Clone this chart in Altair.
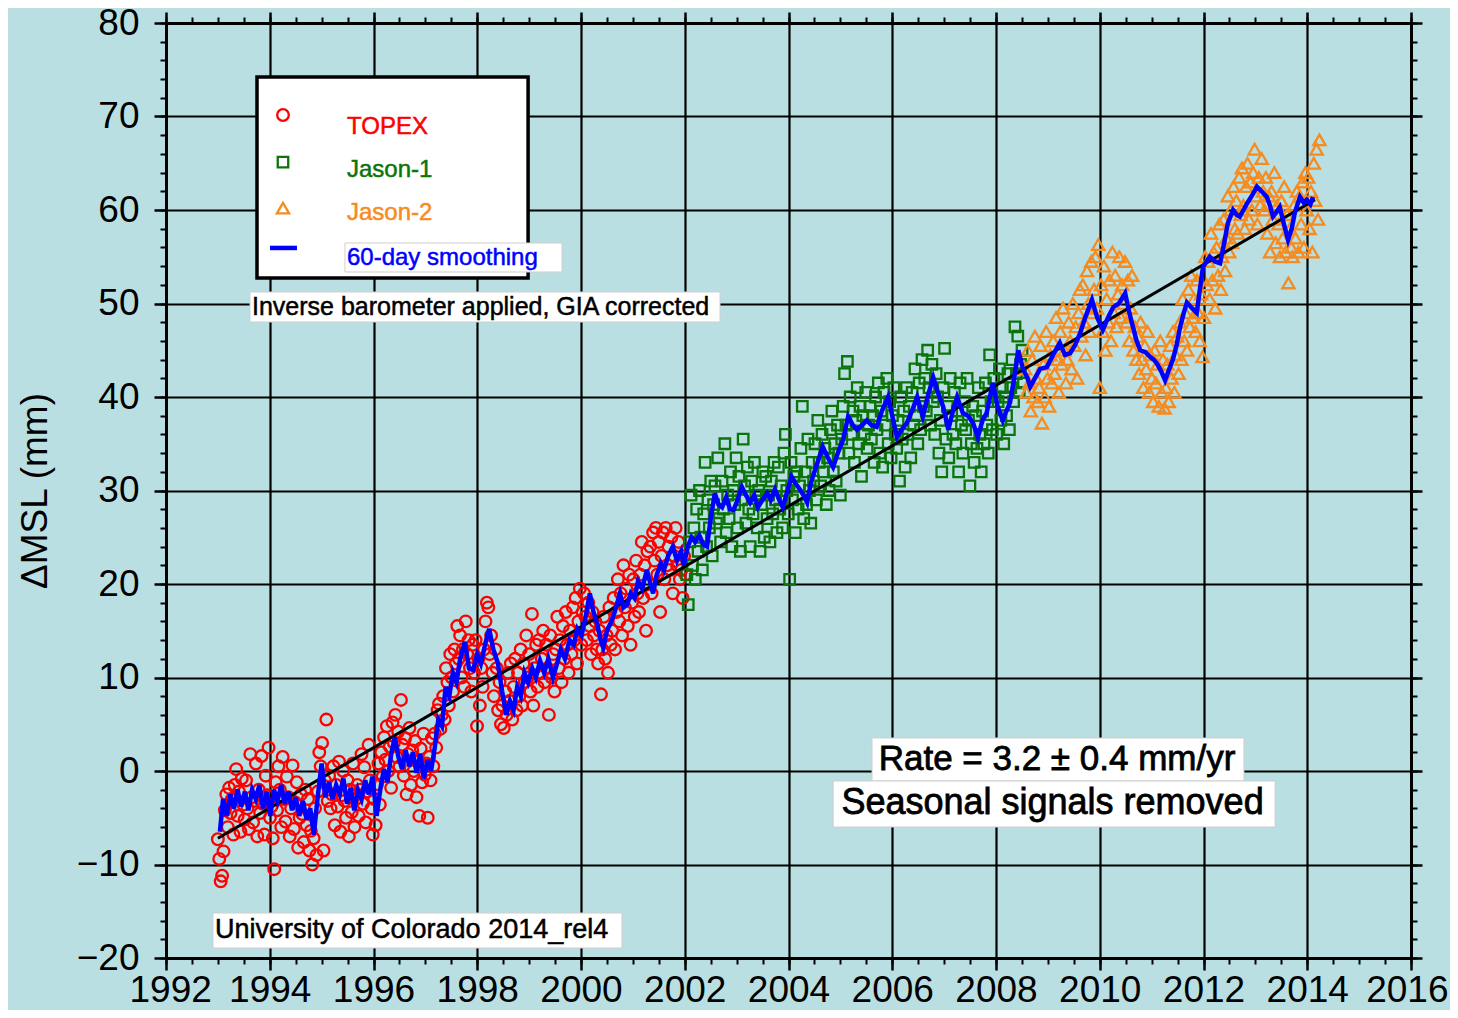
import altair as alt
import numpy as np
import pandas as pd

# ---------------- data ----------------
CYCLE = 0.02715          # ~10-day altimeter cycle, in years
TOPEX_START = 1993.0
JASON1_START = 2002.04
JASON2_START = 2008.56

TOPEX = [
    -7.3, -9.4, -11.8, -11.2, -8.6, -4.2, -2.5, -6.0, -1.8, -4.5,
    -3.0, -6.8, -1.5, 0.2, -4.8, -2.2, -6.5, -0.8, -3.6, -5.2,
    -1.0, -4.0, -6.2, 1.8, -2.8, -5.5, -3.2, 0.8, -7.0, -2.0,
    -4.5, 1.6, -3.5, -6.8, -0.5, -2.6, 2.5, -5.0, -3.8, -7.2,
    -10.5, -1.2, -4.2, 0.5, -2.0, -6.0, 1.5, -3.0, -5.4, -0.6,
    -2.8, -7.0, -4.0, 0.6, -6.2, -3.4, -1.2, -8.2, -5.0, -2.5,
    -4.6, -7.6, -2.0, -5.8, -3.0, -8.5, -6.4, -10.0, -7.2, -4.0,
    -9.0, -2.2, 2.0, 0.5, 3.0, -8.5, -1.0, 5.5, -3.2, -0.5,
    -4.0, -2.5, 0.5, -5.8, -1.5, -3.8, 1.0, -6.5, -2.6, 0.0,
    -3.2, -5.0, -1.0, -7.0, -2.0, -4.4, 0.8, -6.0, -3.0, -1.5,
    -4.8, -2.0, 1.8, -3.5, 0.4, -5.5, -2.2, 2.8, -1.0, -4.0,
    -6.8, -3.0, -5.8, -1.4, 0.8, -3.6, 2.0, -0.6, 3.6, 1.2,
    4.8, 0.0, 2.6, -1.8, 5.2, 3.0, 6.0, 1.5, 4.2, 0.5,
    7.6, 2.8, -0.5, 3.5, -2.5, 1.8, 4.6, -1.5, 2.2, 0.0,
    3.2, -2.8, 1.0, -4.8, 2.4, -1.2, 4.0, -0.4, 0.8, -5.0,
    1.5, -1.0, 3.5, 0.5, 4.0, 2.5, 6.5, 7.2, 4.5, 6.0,
    8.0, 5.5, 11.0, 9.5, 7.0, 12.5, 10.0, 8.5, 13.0, 11.5,
    15.5, 12.0, 14.5, 10.0, 13.0, 9.0, 16.0, 12.5, 14.0, 11.0,
    8.5, 13.5, 10.5, 14.0, 4.8, 12.0, 7.0, 11.0, 9.0, 13.0,
    16.0, 18.0, 17.5, 12.5, 14.5, 10.5, 8.0, 13.0, 11.0, 6.5,
    9.5, 5.0, 7.0, 4.6, 8.5, 6.0, 10.5, 7.5, 11.5, 5.5,
    9.0, 12.0, 6.5, 10.5, 8.0, 13.0, 7.0, 11.5, 9.5, 14.5,
    10.0, 12.5, 8.5, 16.8, 7.0, 11.0, 13.5, 9.0, 14.0, 10.5,
    12.0, 15.0, 9.5, 13.5, 11.0, 6.0, 14.5, 10.0, 12.5, 8.5,
    13.0, 16.5, 11.0, 14.0, 9.5, 15.5, 12.0, 17.0, 13.5, 10.5,
    15.0, 12.5, 17.5, 14.0, 18.5, 11.5, 16.0, 19.5, 13.5, 17.0,
    19.0, 16.5, 14.0, 18.0, 15.5, 12.5, 17.0, 14.5, 16.0, 13.0,
    11.5, 15.0, 8.2, 13.0, 16.5, 12.0, 14.5, 10.5, 17.5, 13.5,
    15.0, 18.5, 13.0, 17.0, 20.5, 16.0, 19.0, 14.5, 22.0, 17.5,
    19.5, 15.5, 21.0, 13.5, 18.0, 20.5, 16.5, 22.5, 19.0, 17.0,
    21.0, 24.5, 18.5, 22.0, 15.0, 23.5, 20.0, 24.0, 19.0, 25.5,
    22.5, 26.0, 21.0, 24.5, 17.0, 23.0, 25.5, 20.5, 26.0, 22.0,
    24.0, 21.5, 25.0, 19.0, 23.0, 26.0, 22.0, 24.5, 20.5, 21.5,
    18.5, 23.0, 21.0,
]

JASON1 = [
    21.0, 17.8, 24.5, 29.5, 22.0, 26.0, 20.5, 28.0, 23.5, 30.0,
    25.0, 21.5, 27.5, 33.0, 24.0, 29.0, 26.0, 31.0, 23.0, 28.5,
    30.5, 26.5, 33.5, 27.0, 24.5, 31.0, 28.0, 35.0, 25.5, 29.5,
    27.0, 32.0, 24.0, 30.0, 28.5, 33.5, 26.0, 31.5, 23.5, 29.0,
    35.5, 30.5, 26.5, 32.5, 28.0, 24.0, 31.0, 27.5, 33.0, 29.5,
    26.0, 30.0, 23.5, 28.5, 32.0, 25.0, 31.5, 27.0, 29.5, 24.5,
    31.0, 27.5, 33.0, 29.0, 25.5, 32.5, 28.0, 30.5, 26.0, 34.0,
    36.0, 30.0, 27.5, 20.5, 33.0, 29.0, 31.5, 25.5, 32.0, 28.0,
    30.5, 34.5, 39.0, 27.0, 32.0, 28.5, 35.5, 30.0, 26.5, 33.0,
    31.0, 35.0, 29.0, 37.5, 33.0, 30.5, 36.0, 32.0, 34.5, 28.5,
    33.5, 30.0, 36.5, 38.5, 32.0, 35.0, 31.0, 37.0, 34.0, 29.5,
    35.5, 39.0, 42.5, 37.0, 43.8, 34.0, 40.0, 36.0, 38.5, 33.0,
    37.5, 41.0, 35.0, 39.0, 31.5, 38.0, 36.0, 40.5, 34.5, 37.0,
    39.0, 35.5, 38.0, 33.0, 40.0, 36.5, 41.5, 34.0, 38.5, 32.5,
    40.5, 37.0, 42.0, 35.0, 39.5, 33.5, 38.0, 41.0, 36.0, 34.5,
    37.5, 31.0, 40.0, 35.5, 38.5, 32.5, 41.0, 36.0, 39.0, 33.5,
    40.5, 37.0, 43.0, 38.0, 35.0, 41.5, 36.5, 44.0, 39.0, 42.0,
    38.5, 45.0, 41.0, 37.0, 43.5, 39.5, 36.0, 42.5, 40.0, 34.0,
    37.5, 32.0, 41.0, 45.2, 35.5, 39.0, 33.5, 42.0, 38.0, 36.0,
    40.5, 35.0, 38.5, 32.0, 41.5, 37.0, 34.0, 39.5, 36.5, 42.0,
    37.5, 30.5, 35.0, 39.0, 33.0, 38.0, 34.5, 41.0, 36.0, 32.0,
    38.5, 35.0, 41.5, 37.0, 34.0, 44.5, 39.5, 36.5, 42.0, 40.0,
    36.0, 39.5, 43.0, 37.5, 41.0, 35.0, 40.0, 38.0, 42.5, 36.5,
    41.0, 44.0, 39.5, 47.5, 42.5, 46.5, 40.5, 43.5, 45.0, 41.5,
]

JASON2 = [
    43.0, 40.5, 45.0, 41.5, 38.5, 44.0, 40.0, 46.5, 42.0, 39.5,
    41.0, 45.5, 37.2, 43.5, 40.0, 47.0, 42.0, 39.0, 44.5, 41.5,
    46.0, 42.5, 48.5, 44.0, 40.5, 47.0, 43.5, 49.5, 45.0, 41.5,
    44.0, 48.0, 46.0, 43.0, 50.0, 45.5, 47.5, 42.0, 49.0, 51.5,
    46.5, 52.0, 48.0, 44.5, 53.5, 50.0, 47.0, 54.5, 49.0, 51.5,
    55.0, 49.5, 56.3, 41.0, 52.0, 47.0, 54.0, 45.0, 50.5, 48.0,
    52.5, 46.0, 55.5, 49.0, 53.0, 47.5, 51.0, 55.0, 48.5, 52.0,
    50.0, 54.5, 48.0, 52.5, 46.0, 49.5, 53.0, 45.0, 47.5, 44.0,
    46.5, 42.5, 48.0, 44.0, 41.0, 45.5, 43.0, 47.0, 40.5, 44.5,
    42.0, 39.5, 45.0, 41.5, 43.5, 39.0, 46.0, 40.5, 44.0, 38.8,
    41.0, 43.5, 39.5, 45.5, 42.0, 47.0, 40.5, 44.5, 46.5, 42.5,
    48.0, 44.0, 50.5, 46.0, 49.0, 45.0, 51.5, 47.5, 53.0, 48.5,
    50.5, 47.0, 52.5, 49.0, 46.0, 51.0, 44.3, 48.5, 55.0, 52.0,
    54.5, 50.5, 57.5, 52.5, 55.5, 49.5, 56.0, 53.0, 58.5, 51.5,
    55.0, 59.0, 53.5, 57.0, 61.5, 55.5, 60.0, 56.5, 62.5, 58.0,
    61.0, 57.5, 63.5, 59.5, 64.5, 60.5, 58.0, 62.5, 65.0, 59.0,
    63.0, 60.0, 64.0, 66.5, 61.5, 58.5, 63.5, 60.5, 65.5, 62.0,
    60.0, 63.5, 57.5, 61.5, 55.5, 62.0, 59.0, 64.0, 56.5, 60.5,
    58.5, 55.0, 61.0, 57.0, 62.5, 55.5, 59.5, 52.2, 58.0, 56.0,
    55.0, 60.5, 57.0, 62.0, 55.5, 61.5, 58.5, 63.0, 56.0, 64.0,
    60.0, 63.5, 58.0, 62.0, 55.5, 65.0, 61.0, 66.5, 59.0, 67.5,
]

SMOOTH_YEAR = [
    1993.04, 1993.10, 1993.17, 1993.24, 1993.31, 1993.38, 1993.45, 1993.52, 1993.59, 1993.66,
    1993.73, 1993.80, 1993.87, 1993.94, 1994.01, 1994.08, 1994.15, 1994.22, 1994.29, 1994.36,
    1994.43, 1994.50, 1994.57, 1994.64, 1994.71, 1994.78, 1994.85, 1994.92, 1995.00, 1995.07,
    1995.14, 1995.21, 1995.28, 1995.35, 1995.42, 1995.49, 1995.56, 1995.63, 1995.70, 1995.77,
    1995.84, 1995.91, 1995.98, 1996.06, 1996.13, 1996.20, 1996.27, 1996.34, 1996.41, 1996.48,
    1996.55, 1996.62, 1996.69, 1996.76, 1996.83, 1996.90, 1996.97, 1997.04, 1997.11, 1997.18,
    1997.25, 1997.32, 1997.39, 1997.46, 1997.53, 1997.60, 1997.67, 1997.76, 1997.84, 1997.92,
    1998.00, 1998.07, 1998.15, 1998.23, 1998.31, 1998.40, 1998.48, 1998.56, 1998.63, 1998.70,
    1998.77, 1998.84, 1998.91, 1998.98, 1999.06, 1999.13, 1999.21, 1999.29, 1999.37, 1999.46,
    1999.54, 1999.61, 1999.69, 1999.78, 1999.86, 1999.93, 2000.01, 2000.09, 2000.17, 2000.24,
    2000.31, 2000.38, 2000.43, 2000.50, 2000.57, 2000.65, 2000.75, 2000.82, 2000.89, 2000.96,
    2001.03, 2001.10, 2001.18, 2001.27, 2001.34, 2001.39, 2001.46, 2001.54, 2001.60, 2001.68,
    2001.77, 2001.85, 2001.93, 2001.98, 2002.06, 2002.13, 2002.20, 2002.28, 2002.36, 2002.43,
    2002.50, 2002.58, 2002.65, 2002.72, 2002.80, 2002.87, 2002.94, 2003.02, 2003.10, 2003.18,
    2003.26, 2003.34, 2003.41, 2003.50, 2003.59, 2003.66, 2003.74, 2003.82, 2003.89, 2003.98,
    2004.06, 2004.13, 2004.22, 2004.29, 2004.36, 2004.42, 2004.47, 2004.56, 2004.66, 2004.76,
    2004.86, 2004.95, 2005.05, 2005.15, 2005.24, 2005.32, 2005.42, 2005.51, 2005.60, 2005.70,
    2005.80, 2005.92, 2006.00, 2006.09, 2006.18, 2006.28, 2006.38, 2006.48, 2006.59, 2006.68,
    2006.79, 2006.88, 2006.98, 2007.08, 2007.17, 2007.25, 2007.36, 2007.46, 2007.56, 2007.65,
    2007.74, 2007.82, 2007.94, 2008.03, 2008.13, 2008.20, 2008.27, 2008.35, 2008.43, 2008.52,
    2008.60, 2008.66, 2008.75, 2008.85, 2008.98, 2009.10, 2009.23, 2009.33, 2009.43, 2009.52,
    2009.62, 2009.72, 2009.85, 2009.95, 2010.06, 2010.16, 2010.26, 2010.37, 2010.49, 2010.57,
    2010.64, 2010.71, 2010.78, 2010.88, 2010.97, 2011.04, 2011.10, 2011.18, 2011.26, 2011.34,
    2011.41, 2011.48, 2011.55, 2011.62, 2011.68, 2011.78, 2011.87, 2011.93, 2011.99, 2012.06,
    2012.12, 2012.22, 2012.32, 2012.40, 2012.47, 2012.57, 2012.64, 2012.70, 2012.77, 2012.84,
    2012.93, 2013.03, 2013.12, 2013.22, 2013.28, 2013.34, 2013.41, 2013.47, 2013.55, 2013.63,
    2013.70, 2013.76, 2013.86, 2013.93, 2013.99, 2014.06, 2014.11,
]
SMOOTH_MM = [
    -6.5, -3.0, -4.8, -2.5, -4.0, -2.0, -3.8, -2.2, -4.2, -2.0,
    -3.0, -1.5, -4.0, -2.2, -4.8, -2.0, -3.2, -1.5, -3.5, -2.2,
    -4.2, -2.8, -4.8, -3.2, -5.2, -4.0, -6.8, -3.0, 0.8, -2.8,
    -1.2, -3.0, -1.5, -2.5, -0.8, -3.5, -1.8, -4.2, -2.0, -3.0,
    -1.0, -2.5, -0.6, -4.8, -2.0, 0.2, -1.2, 1.8, 3.6, 1.5,
    0.2, 2.2, 0.5, 2.0, -0.2, 1.8, -0.8, 1.2, 0.0, 2.5,
    5.5, 4.8, 9.0, 8.0, 10.5, 9.5, 12.0, 13.8, 11.0, 10.8,
    12.5, 11.5, 13.5, 15.2, 13.0, 11.5, 8.5, 6.0, 7.5, 6.5,
    9.0, 8.0, 10.5, 9.5, 11.0, 10.0, 11.8, 10.5, 12.0, 10.0,
    11.5, 13.0, 12.0, 14.0, 13.5, 15.2, 14.5, 16.5, 19.0, 17.0,
    15.8, 14.0, 13.2, 15.0, 15.8, 17.0, 19.0, 17.5, 17.8, 19.0,
    18.5, 20.3, 19.5, 21.5, 20.0, 19.0, 21.0, 22.2, 21.5, 23.0,
    24.0, 22.5, 23.5, 22.0, 24.0, 25.0, 24.5, 25.2, 24.2, 24.0,
    27.0, 29.7, 28.5, 28.2, 29.3, 28.0, 27.9, 29.0, 30.4, 29.5,
    28.7, 29.5, 28.2, 29.0, 29.7, 29.0, 30.1, 29.0, 28.2, 30.0,
    31.5, 30.8, 30.1, 29.5, 28.7, 30.5, 31.5, 33.0, 34.7, 33.5,
    32.5, 34.0, 35.4, 37.9, 37.0, 36.5, 37.0, 37.5, 37.0, 36.8,
    38.5, 40.0, 38.0, 35.7, 36.5, 37.2, 38.5, 40.0, 37.9, 40.0,
    42.1, 40.5, 39.0, 36.5, 38.5, 40.0, 38.3, 38.0, 37.2, 35.7,
    37.5, 38.3, 41.5, 39.0, 37.5, 38.5, 39.4, 42.0, 45.0, 43.0,
    42.1, 41.1, 42.0, 43.0, 43.2, 44.5, 45.8, 44.5, 44.7, 45.5,
    46.8, 48.5, 50.4, 48.5, 47.2, 48.5, 49.6, 50.0, 51.1, 49.0,
    47.5, 46.0, 45.0, 44.8, 44.3, 44.0, 43.6, 42.8, 41.8, 43.0,
    44.0, 45.5, 47.5, 49.0, 50.1, 49.5, 49.0, 51.5, 53.9, 54.5,
    55.0, 54.5, 54.3, 56.5, 58.6, 60.0, 59.5, 59.3, 60.0, 60.7,
    61.5, 62.5, 62.0, 61.4, 60.5, 59.3, 59.8, 60.3, 58.5, 56.8,
    58.0, 59.7, 61.4, 60.8, 61.1, 60.6, 61.4,
]

TREND_YEAR = [1993.0, 2014.15]
TREND_MM = [-7.2, 61.1]

X_MAJOR = list(range(1992, 2017, 2))
X_MINOR = [1992 + 0.5 * i for i in range(49)]
Y_MAJOR = list(range(-20, 81, 10))
Y_MINOR = list(range(-20, 81, 2))

# ---------------- styling ----------------
FONT = "Liberation Sans"
BG = "#b9dfe2"
RED = "#ff0000"
GREEN = "#0b740b"
ORANGE = "#f68b1f"
BLUE = "#0000ff"

xs = alt.Scale(domain=[1992, 2016], nice=False, zero=False)
ys = alt.Scale(domain=[-20, 80], nice=False, zero=False)

topex_df = pd.DataFrame({"year": TOPEX_START + CYCLE * np.arange(len(TOPEX)), "mm": TOPEX})
j1_df = pd.DataFrame({"year": JASON1_START + CYCLE * np.arange(len(JASON1)), "mm": JASON1})
j2_df = pd.DataFrame({"year": JASON2_START + CYCLE * np.arange(len(JASON2)), "mm": JASON2})
smooth_df = pd.DataFrame({"year": SMOOTH_YEAR, "mm": SMOOTH_MM})
trend_df = pd.DataFrame({"year": TREND_YEAR, "mm": TREND_MM})


def X():
    return alt.X("year:Q", scale=xs, axis=None)


def Y():
    return alt.Y("mm:Q", scale=ys, axis=None)


def axis_layer(xaxis, yaxis, ytitle=None):
    return alt.Chart(trend_df).mark_point(opacity=0, size=1).encode(
        x=alt.X("year:Q", scale=xs, axis=xaxis, title=None),
        y=alt.Y("mm:Q", scale=ys, axis=yaxis, title=ytitle),
    )


common_tick = dict(tickColor="black", domainColor="black")

ax_bottom_major = alt.Axis(
    orient="bottom", values=X_MAJOR, format="d", labels=True,
    labelFont=FONT, labelFontSize=37, labelColor="black", labelPadding=2,
    labelOverlap=False, labelFlush=True, labelFlushOffset=37, labelBound=False,
    tickSize=12, tickWidth=2.5, domain=True, domainWidth=3,
    grid=True, gridColor="black", gridWidth=2.2, gridOpacity=1, **common_tick)
ax_left_major = alt.Axis(
    orient="left", values=Y_MAJOR, format="d", labels=True,
    labelFont=FONT, labelFontSize=37, labelColor="black", labelPadding=15,
    labelOverlap=False, labelFlush=False, labelBound=False,
    tickSize=12, tickWidth=2.5, domain=True, domainWidth=3,
    grid=True, gridColor="black", gridWidth=2.2, gridOpacity=1,
    titleFont=FONT, titleFontSize=37, titleFontWeight="normal", titleColor="black",
    titlePadding=22, **common_tick)
ax_bottom_minor = alt.Axis(orient="bottom", values=X_MINOR, labels=False, tickSize=6,
                           tickWidth=2, domain=False, grid=False, **common_tick)
ax_left_minor = alt.Axis(orient="left", values=Y_MINOR, labels=False, tickSize=6,
                         tickWidth=2, domain=False, grid=False, **common_tick)
ax_top_major = alt.Axis(orient="top", values=X_MAJOR, labels=False, tickSize=11,
                        tickWidth=2.5, domain=True, domainWidth=3, grid=False, **common_tick)
ax_right_major = alt.Axis(orient="right", values=Y_MAJOR, labels=False, tickSize=11,
                          tickWidth=2.5, domain=True, domainWidth=3, grid=False, **common_tick)
ax_top_minor = alt.Axis(orient="top", values=X_MINOR, labels=False, tickSize=6,
                        tickWidth=2, domain=False, grid=False, **common_tick)
ax_right_minor = alt.Axis(orient="right", values=Y_MINOR, labels=False, tickSize=6,
                          tickWidth=2, domain=False, grid=False, **common_tick)

axes = [
    axis_layer(ax_bottom_major, ax_left_major, "ΔMSL (mm)"),
    axis_layer(ax_bottom_minor, ax_left_minor),
    axis_layer(ax_top_major, ax_right_major),
    axis_layer(ax_top_minor, ax_right_minor),
]

CIRCLE_SIZE = 135
SQUARE_SIZE = 110
TRI_SIZE = 150

topex = alt.Chart(topex_df).mark_point(shape="circle", filled=False, color=RED, size=CIRCLE_SIZE,
                                       strokeWidth=2.3, opacity=1).encode(x=X(), y=Y())
jason1 = alt.Chart(j1_df).mark_point(shape="square", filled=False, color=GREEN, size=SQUARE_SIZE,
                                     strokeWidth=2.3, opacity=1).encode(x=X(), y=Y())
jason2 = alt.Chart(j2_df).mark_point(shape="triangle-up", filled=False, color=ORANGE, size=TRI_SIZE,
                                     strokeWidth=2.3, opacity=1).encode(x=X(), y=Y())
trend = alt.Chart(trend_df).mark_line(color="black", strokeWidth=3).encode(x=X(), y=Y())
smooth = alt.Chart(smooth_df).mark_line(color=BLUE, strokeWidth=4.5).encode(x=X(), y=Y())


def rect(x1, x2, y1, y2, stroke="#cfcfcf", sw=1.0):
    d = pd.DataFrame({"a": [x1], "b": [x2], "c": [y1], "d": [y2]})
    return alt.Chart(d).mark_rect(fill="white", stroke=stroke, strokeWidth=sw).encode(
        x=alt.X("a:Q", scale=xs, axis=None), x2="b:Q",
        y=alt.Y("c:Q", scale=ys, axis=None), y2="d:Q")


def label(x, y, text, size, color="black", align="left", heavy=0.5):
    d = pd.DataFrame({"x": [x], "y": [y], "t": [text]})
    return alt.Chart(d).mark_text(align=align, baseline="middle", font=FONT, fontSize=size,
                                  color=color, stroke=color, strokeWidth=heavy).encode(
        x=alt.X("x:Q", scale=xs, axis=None), y=alt.Y("y:Q", scale=ys, axis=None), text="t:N")


def symbol(x, y, shape, color, size):
    d = pd.DataFrame({"x": [x], "y": [y]})
    return alt.Chart(d).mark_point(shape=shape, filled=False, color=color, size=size,
                                   strokeWidth=2.3, opacity=1).encode(
        x=alt.X("x:Q", scale=xs, axis=None), y=alt.Y("y:Q", scale=ys, axis=None))


leg_line_df = pd.DataFrame({"x": [1994.005, 1994.525], "y": [55.94, 55.94]})
leg_line = alt.Chart(leg_line_df).mark_line(color=BLUE, strokeWidth=4.5).encode(
    x=alt.X("x:Q", scale=xs, axis=None), y=alt.Y("y:Q", scale=ys, axis=None))

annotations = [
    # legend
    rect(1993.754, 1998.98, 74.22, 52.73, stroke="black", sw=3.5),
    symbol(1994.255, 70.16, "circle", RED, CIRCLE_SIZE),
    symbol(1994.255, 65.13, "square", GREEN, SQUARE_SIZE),
    symbol(1994.255, 60.2, "triangle-up", ORANGE, TRI_SIZE),
    leg_line,
    rect(1995.45, 1999.634, 56.47, 53.37),
    label(1995.489, 68.88, "TOPEX", 24, RED),
    label(1995.489, 64.28, "Jason-1", 24, GREEN),
    label(1995.489, 59.68, "Jason-2", 24, ORANGE),
    label(1995.489, 54.87, "60-day smoothing", 24, BLUE),
    # notes
    rect(1993.619, 2002.68, 51.23, 48.02),
    label(1993.658, 49.63, "Inverse barometer applied, GIA corrected", 25),
    rect(1992.906, 2000.79, -15.19, -18.93),
    label(1992.945, -17.05, "University of Colorado 2014_rel4", 27),
    rect(2005.61, 2012.78, 3.53, -1.07),
    rect(2004.86, 2013.38, -1.07, -5.99),
    label(2009.176, 1.3, "Rate = 3.2 ± 0.4 mm/yr", 35, align="center", heavy=0.8),
    label(2009.09, -3.45, "Seasonal signals removed", 36, align="center", heavy=0.8),
]

chart = alt.layer(
    *axes, topex, jason1, jason2, trend, smooth, *annotations
).resolve_axis(
    x="independent", y="independent"
).properties(
    width=1245, height=935, background=BG,
    padding={"left": 158, "top": 15, "right": 39, "bottom": 52},
    autosize=alt.AutoSizeParams(type="none"),
).configure_view(stroke=None)

chart.save("out.html", embed_options={"renderer": "svg", "actions": False})
